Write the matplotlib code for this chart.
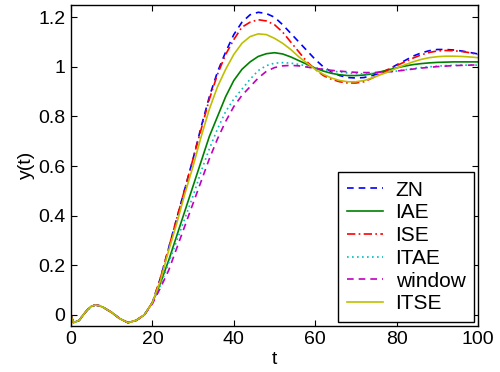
import matplotlib
matplotlib.use("Agg")
import matplotlib.pyplot as plt

# time grid (shared by every curve)
t_start = [0, 0.6, 2, 3, 4, 5, 6, 7, 8, 10, 12, 14, 16, 18]
t_rest = [20, 22, 24, 26, 28, 30, 32, 34, 36, 38, 40, 42, 44, 46, 48, 50,
          52, 54, 56, 58, 60, 62, 64, 66, 68, 70, 72, 74, 76, 78, 80, 82,
          84, 86, 88, 90, 92, 94, 96, 98, 100]

# common early part of the response
y_start = [0.0, -0.031, -0.022, 0.0, 0.02, 0.035, 0.04, 0.037, 0.03, 0.01,
           -0.015, -0.031, -0.022, 0.0]

y_zn = [0.05, 0.15, 0.27, 0.39, 0.51, 0.63, 0.76, 0.88, 0.98, 1.06, 1.13,
        1.18, 1.21, 1.22, 1.215, 1.2, 1.17, 1.135, 1.10, 1.065, 1.03, 1.0,
        0.98, 0.965, 0.957, 0.955, 0.957, 0.965, 0.975, 0.99, 1.008, 1.025,
        1.043, 1.056, 1.065, 1.07, 1.07, 1.068, 1.064, 1.058, 1.052]
y_iae = [0.05, 0.13, 0.22, 0.32, 0.42, 0.52, 0.62, 0.72, 0.80, 0.88, 0.945,
         0.99, 1.02, 1.042, 1.053, 1.057, 1.052, 1.04, 1.025, 1.01, 0.995,
         0.983, 0.974, 0.968, 0.965, 0.965, 0.967, 0.972, 0.98, 0.988, 0.996,
         1.003, 1.009, 1.013, 1.016, 1.018, 1.019, 1.02, 1.02, 1.02, 1.02]
y_ise = [0.05, 0.15, 0.27, 0.39, 0.51, 0.63, 0.75, 0.87, 0.97, 1.05, 1.11,
         1.16, 1.18, 1.19, 1.185, 1.17, 1.14, 1.10, 1.06, 1.02, 0.99, 0.965,
         0.95, 0.94, 0.935, 0.935, 0.94, 0.955, 0.97, 0.99, 1.005, 1.02,
         1.035, 1.048, 1.058, 1.064, 1.066, 1.065, 1.062, 1.057, 1.05]
y_itae = [0.05, 0.12, 0.21, 0.30, 0.39, 0.48, 0.58, 0.67, 0.75, 0.82, 0.87,
          0.91, 0.95, 0.985, 1.005, 1.015, 1.017, 1.015, 1.01, 1.003, 0.997,
          0.99, 0.984, 0.979, 0.975, 0.973, 0.972, 0.973, 0.975, 0.979,
          0.983, 0.988, 0.993, 0.997, 1.0, 1.003, 1.005, 1.006, 1.007, 1.007,
          1.007]
y_window = [0.045, 0.11, 0.18, 0.27, 0.36, 0.45, 0.54, 0.63, 0.71, 0.78,
            0.84, 0.885, 0.92, 0.955, 0.982, 0.997, 1.004, 1.006, 1.004,
            0.999, 0.994, 0.99, 0.986, 0.983, 0.98, 0.978, 0.977, 0.977,
            0.978, 0.98, 0.983, 0.987, 0.991, 0.995, 0.998, 1.001, 1.003,
            1.005, 1.006, 1.007, 1.008]
y_itse = [0.05, 0.14, 0.26, 0.37, 0.49, 0.60, 0.72, 0.83, 0.92, 0.99, 1.05,
          1.095, 1.122, 1.133, 1.13, 1.115, 1.095, 1.07, 1.04, 1.015, 0.99,
          0.97, 0.955, 0.945, 0.94, 0.94, 0.945, 0.955, 0.968, 0.98, 0.995,
          1.008, 1.02, 1.03, 1.037, 1.041, 1.043, 1.043, 1.042, 1.04, 1.037]

labels = ["ZN", "IAE", "ISE", "ITAE", "window", "ITSE"]
series = [y_zn, y_iae, y_ise, y_itae, y_window, y_itse]
colors = ["#0000ff", "#008000", "#ff0000", "#00bfbf", "#bf00bf", "#bfbf00"]
styles = [(0, (4, 3)), "-", (0, (5, 2, 1, 2)), (0, (1, 2)), (0, (4, 3)), "-"]

plt.rcParams["font.family"] = ["Liberation Sans", "DejaVu Sans"]
plt.rcParams["font.size"] = 14

fig = plt.figure(figsize=(5, 3.72), dpi=100)
ax = fig.add_axes([0.142, 0.124, 0.814, 0.863])

t = t_start + t_rest
for ys, lab, c, ls in zip(series, labels, colors, styles):
    ax.plot(t, y_start + ys, color=c, linestyle=ls, linewidth=1.2, label=lab)

ax.set_xlim(0, 100)
ax.set_ylim(-0.044, 1.25)
ax.set_xticks([0, 20, 40, 60, 80, 100])
ax.set_yticks([0, 0.2, 0.4, 0.6, 0.8, 1.0, 1.2])
ax.set_yticklabels(["0", "0.2", "0.4", "0.6", "0.8", "1", "1.2"])
ax.tick_params(direction="in", length=4, width=0.8, top=True, right=True,
               labelsize=14, pad=4)
for sp in ax.spines.values():
    sp.set_linewidth(1.0)

ax.set_xlabel("t", fontsize=14, labelpad=2)
ax.set_ylabel("y(t)", fontsize=14, labelpad=2)

leg = ax.legend(loc="lower right", fontsize=15, handlelength=1.75,
                handletextpad=0.6, labelspacing=0.18, borderpad=0.4,
                borderaxespad=0.2, fancybox=False, framealpha=1)
leg.get_frame().set_edgecolor("black")
leg.get_frame().set_linewidth(1.0)

fig.savefig("out.png", dpi=100)
